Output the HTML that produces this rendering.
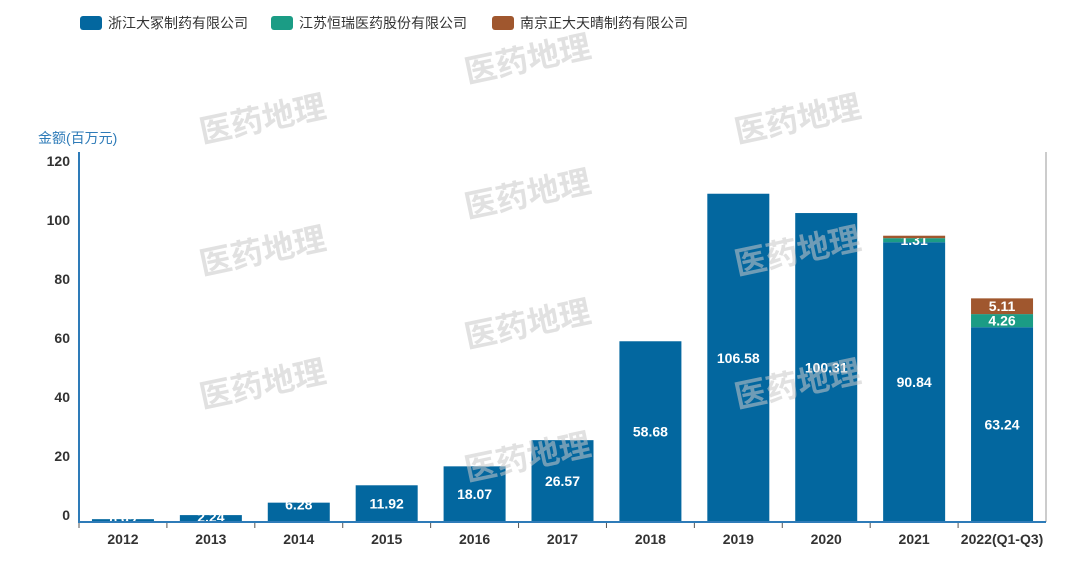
<!DOCTYPE html>
<html><head><meta charset="utf-8"><style>
body{margin:0;background:#fff;width:1080px;height:561px;overflow:hidden;font-family:"Liberation Sans","Noto Sans CJK SC",sans-serif}
</style></head><body>
<svg id="c" width="1080" height="561" xmlns="http://www.w3.org/2000/svg"></svg>
<script>
const categories=["2012","2013","2014","2015","2016","2017","2018","2019","2020","2021","2022(Q1-Q3)"];
const seriesA=[0.92,2.24,6.28,11.92,18.07,26.57,58.68,106.58,100.31,90.84,63.24];
const seriesB=[0,0,0,0,0,0,0,0,0,1.31,4.26];
const seriesC=[0,0,0,0,0,0,0,0,0,0.8,5.11];
const labelsA=["0.92","2.24","6.28","11.92","18.07","26.57","58.68","106.58","100.31","90.84","63.24"];
const labelsB=["","","","","","","","","","1.31","4.26"];
const labelsC=["","","","","","","","","","","5.11"];
const yTicks=[0,20,40,60,80,100,120];
const names=["浙江大冢制药有限公司","江苏恒瑞医药股份有限公司","南京正大天晴制药有限公司"];
const colors=["#03679f","#1b9c85","#a0572e"];
const svg=document.getElementById('c');const NS="http://www.w3.org/2000/svg";
function mk(t,a,txt){const e=document.createElementNS(NS,t);for(const k in a)e.setAttribute(k,a[k]);if(txt!==undefined)e.textContent=txt;svg.appendChild(e);return e;}
const x0=79,x1=1046,base=522,pu=3.08,step=(x1-x0)/categories.length,bw=62;
const y=v=>base-v*pu; const xc=i=>x0+step*(i+0.5);
let e=mk('line',{x1:x1,y1:152,x2:x1,y2:base,stroke:'#ccc','stroke-width':2});

yTicks.forEach((t,i)=>{
 const ty=515-i*59;
 const l=mk('text',{x:70,y:ty+5,'font-size':14,'font-weight':'bold',fill:'#333','text-anchor':'end'},String(t));
 
 
});
e=mk('text',{x:38,y:143,'font-size':14,fill:'#2e7bb8'},'金额(百万元)');

const sers=[seriesA,seriesB,seriesC],labs=[labelsA,labelsB,labelsC];
categories.forEach((c,i)=>{
 let acc=0;
 sers.forEach((s,k)=>{
  const v=s[i]; if(v<=0)return;
  const r=mk('rect',{x:xc(i)-bw/2,y:y(acc+v),width:bw,height:v*pu,fill:colors[k]});
  
  
  const lb=labs[k][i];
  if(lb){const cy=k===0?(v*pu>20?y(acc+v/2):y(acc+v)+2):y(acc+v/2);
   const t=mk('text',{x:xc(i),y:cy+5,'font-size':14,'font-weight':'bold',fill:'#fff','text-anchor':'middle'},lb);
   
   }
  acc+=v;
 });
 const xl=mk('text',{x:xc(i),y:544,'font-size':14,'font-weight':'bold',fill:'#333','text-anchor':'middle'},c);
 
 
 const tk=mk('line',{x1:x0+step*i,y1:base,x2:x0+step*i,y2:base+6,stroke:'#555'});
 
 
});
e=mk('line',{x1:x0,y1:152,x2:x0,y2:base+1,stroke:'#2e7bb8','stroke-width':2});

e=mk('line',{x1:x0,y1:base,x2:x1,y2:base,stroke:'#2e7bb8','stroke-width':2});

[[530,70],[265,130],[800,130],[530,205],[265,262],[800,262],[530,335],[265,395],[800,395],[530,468]].forEach(p=>{
 const w=mk('text',{x:p[0],y:p[1],'font-size':32,'font-weight':'bold',fill:'#c8c8c8','fill-opacity':0.55,'text-anchor':'middle',transform:`rotate(-12 ${p[0]} ${p[1]})`},'医药地理');
 
 
});
const lx=[80,271,492];
names.forEach((n,k)=>{
 const r=mk('rect',{x:lx[k],y:16,width:22,height:14,rx:3,fill:colors[k]});
 
 
 const t=mk('text',{x:lx[k]+28,y:28,'font-size':14,fill:'#333'},n);
 
 
});
</script>
</body></html>
